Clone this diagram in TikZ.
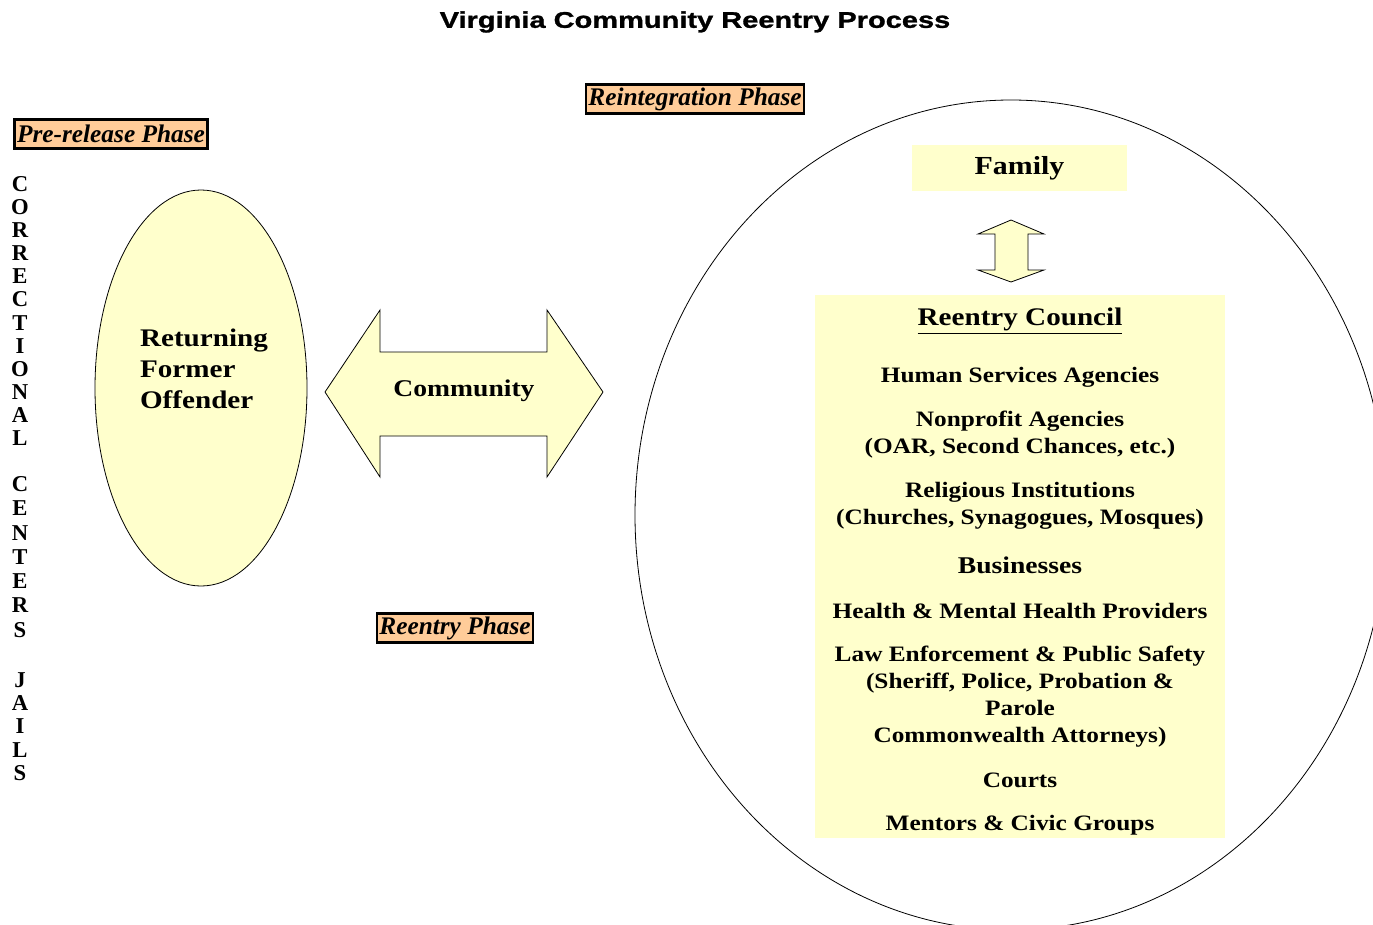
\documentclass[tikz,border=0pt]{standalone}
\usepackage{fontspec}
\setmainfont{Liberation Serif}
\newfontfamily\titlefont{Liberation Sans}[FakeStretch=1.28,FakeBold=1.2]
\newfontfamily\wideserif{Liberation Serif}[FakeStretch=1.15]
\usetikzlibrary{shapes.geometric}
\definecolor{paleyellow}{HTML}{FFFFCC}
\definecolor{phaseorange}{HTML}{FFCC99}

\begin{document}
\begin{tikzpicture}[x=0.75pt,y=-0.75pt,
    phase/.style={draw, line width=2pt, fill=phaseorange, inner xsep=1.8pt, inner ysep=0pt,
        minimum height=22pt, font=\bfseries\itshape\fontsize{19}{22}\selectfont},
    item/.style={align=center, inner sep=0pt, font=\wideserif\bfseries\fontsize{16.5}{20.25}\selectfont},
    letter/.style={inner sep=0pt, font=\bfseries\fontsize{17}{17}\selectfont},
    panel/.style={fill=paleyellow, inner sep=0pt},
    blockarrow/.style={draw, line width=0.6pt, fill=paleyellow, line join=miter}]
    \useasboundingbox (0,0) rectangle (1373,924);

    % Title
    \node[font=\titlefont\bfseries\fontsize{17}{20}\selectfont] (title) at (695,22) {Virginia Community Reentry Process};

    % Phase labels
    \node[phase] (prerelease) at (111,134) {Pre-release Phase};
    \node[phase] (reintegration) at (695,99) {Reintegration Phase};
    \node[phase] (reentryphase) at (455,628) {Reentry Phase};

    % Vertical lettering
    \foreach \ch [count=\i from 0] in {C,O,R,R,E,C,T,I,O,N,A,L}
        \node[letter] (corr-\i) at (20,184+23.1*\i) {\ch};
    \foreach \ch [count=\i from 0] in {C,E,N,T,E,R,S}
        \node[letter] (cent-\i) at (20,484+24.3*\i) {\ch};
    \foreach \ch [count=\i from 0] in {J,A,I,L,S}
        \node[letter] (jail-\i) at (20,680+23.25*\i) {\ch};

    % Returning offender
    \node[ellipse, draw, line width=0.6pt, fill=paleyellow, minimum width=159pt, minimum height=297pt] (offender) at (201,388) {};
    \node[align=left, inner sep=0pt, font=\wideserif\bfseries\fontsize{19}{23.25}\selectfont] (offtext) at (204,369) {Returning\\Former\\Offender};

    % Community arrow
    \draw[blockarrow] (325,392) -- (380,310) -- (380,352) -- (547,352) -- (547,310) -- (603,392)
        -- (547,477) -- (547,436) -- (380,436) -- (380,477) -- cycle;
    \node[item, font=\wideserif\bfseries\fontsize{18}{22}\selectfont] (community) at (464,391) {Community};

    % Reintegration region
    \node[ellipse, draw, line width=0.6pt, minimum width=564pt, minimum height=622.5pt] (region) at (1011,515) {};
    \node[panel, minimum width=161.25pt, minimum height=34.5pt, font=\wideserif\bfseries\fontsize{19.5}{22}\selectfont] (family) at (1019.5,168) {Family};
    \draw[blockarrow] (1011,220) -- (1044,234) -- (1028,234) -- (1028,270) -- (1044,270) -- (1011,282)
        -- (978,270) -- (995,270) -- (995,234) -- (978,234) -- cycle;
    \node[panel, minimum width=307.5pt, minimum height=407.25pt] (council) at (1020,566.5) {};

    % Council members
    \node[item, font=\wideserif\bfseries\fontsize{19}{22}\selectfont] (counciltitle) at (1020,321) {\underline{Reentry Council}};
    \node[item] (human) at (1020,377) {Human Services Agencies};
    \node[item] (nonprofit) at (1020,435) {Nonprofit Agencies\\(OAR, Second Chances, etc.)};
    \node[item] (religious) at (1020,505.5) {Religious Institutions\\(Churches, Synagogues, Mosques)};
    \node[item, font=\wideserif\bfseries\fontsize{18}{22}\selectfont] (business) at (1020,565) {Businesses};
    \node[item] (health) at (1020,611) {Health \& Mental Health Providers};
    \node[item] (law) at (1020,696.5) {Law Enforcement \& Public Safety\\(Sheriff, Police, Probation \&\\Parole\\Commonwealth Attorneys)};
    \node[item] (courts) at (1020,780) {Courts};
    \node[item] (mentors) at (1020,825) {Mentors \& Civic Groups};
\end{tikzpicture}
\end{document}
